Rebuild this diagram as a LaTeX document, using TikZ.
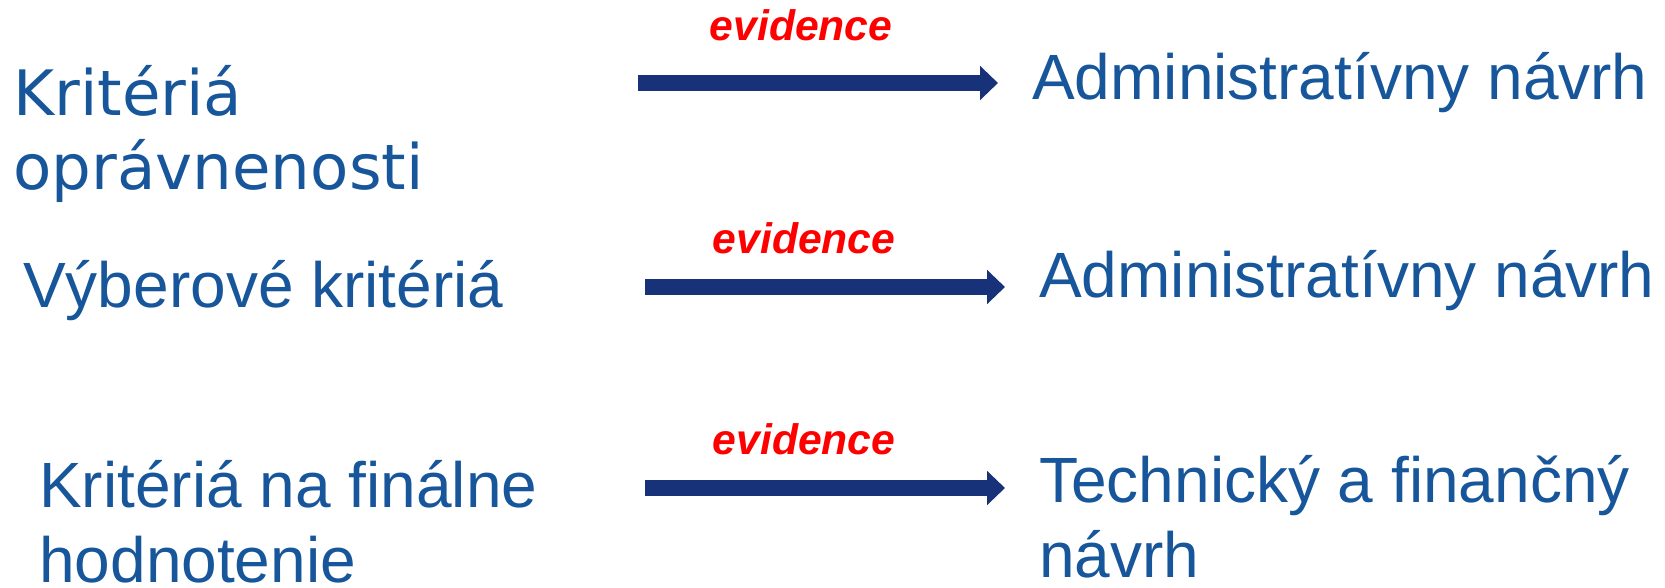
\documentclass[tikz,border=0pt]{standalone}
\usepackage{fontspec}
\setmainfont{Liberation Sans}
\newfontfamily\wideleft{DejaVu Sans}
\usetikzlibrary{arrows.meta,positioning}
\definecolor{txtblue}{HTML}{17569A}
\definecolor{arrnavy}{HTML}{173278}
\definecolor{evred}{HTML}{FF0000}

\begin{document}
\begin{tikzpicture}[
  x=0.75pt, y=-0.75pt,
  crit/.style={anchor=base west, inner sep=0pt, align=left, text=txtblue, font=\fontsize{48}{56}\selectfont},
  prop/.style={anchor=base west, inner sep=0pt, align=left, text=txtblue, font=\fontsize{48}{56}\selectfont},
  evi/.style={anchor=base, inner sep=0pt, text=evred, font=\bfseries\itshape\fontsize{32}{36}\selectfont},
  flow/.style={-{Triangle[length=13.5pt, width=25pt]}, line width=11.8pt, color=arrnavy}
]
\useasboundingbox (0,0) rectangle (1665,587);

% left column (base = last line)
\node[crit, font=\wideleft\fontsize{47}{55.5}\selectfont] (c1) at (13,189) {Kritériá\\oprávnenosti};
\node[crit] (c2) at (23,307) {Výberové kritériá};
\node[crit] (c3) at (39,582) {Kritériá na finálne\\hodnotenie};

% right column
\node[prop] (p1) at (1032,99) {Administratívny návrh};
\node[prop] (p2) at (1039,297) {Administratívny návrh};
\node[prop] (p3) at (1039,577) {Technický a finančný\\návrh};

\node[evi] (e1) at (801,40) {evidence};
\node[evi] (e2) at (804,253) {evidence};
\node[evi] (e3) at (804,454) {evidence};

\coordinate (s1) at (638,83);  \coordinate (t1) at (998,83);
\coordinate (s2) at (645,287); \coordinate (t2) at (1005,287);
\coordinate (s3) at (645,488); \coordinate (t3) at (1005,488);

\draw[flow] (s1) -- (t1);
\draw[flow] (s2) -- (t2);
\draw[flow] (s3) -- (t3);
\end{tikzpicture}
\end{document}
